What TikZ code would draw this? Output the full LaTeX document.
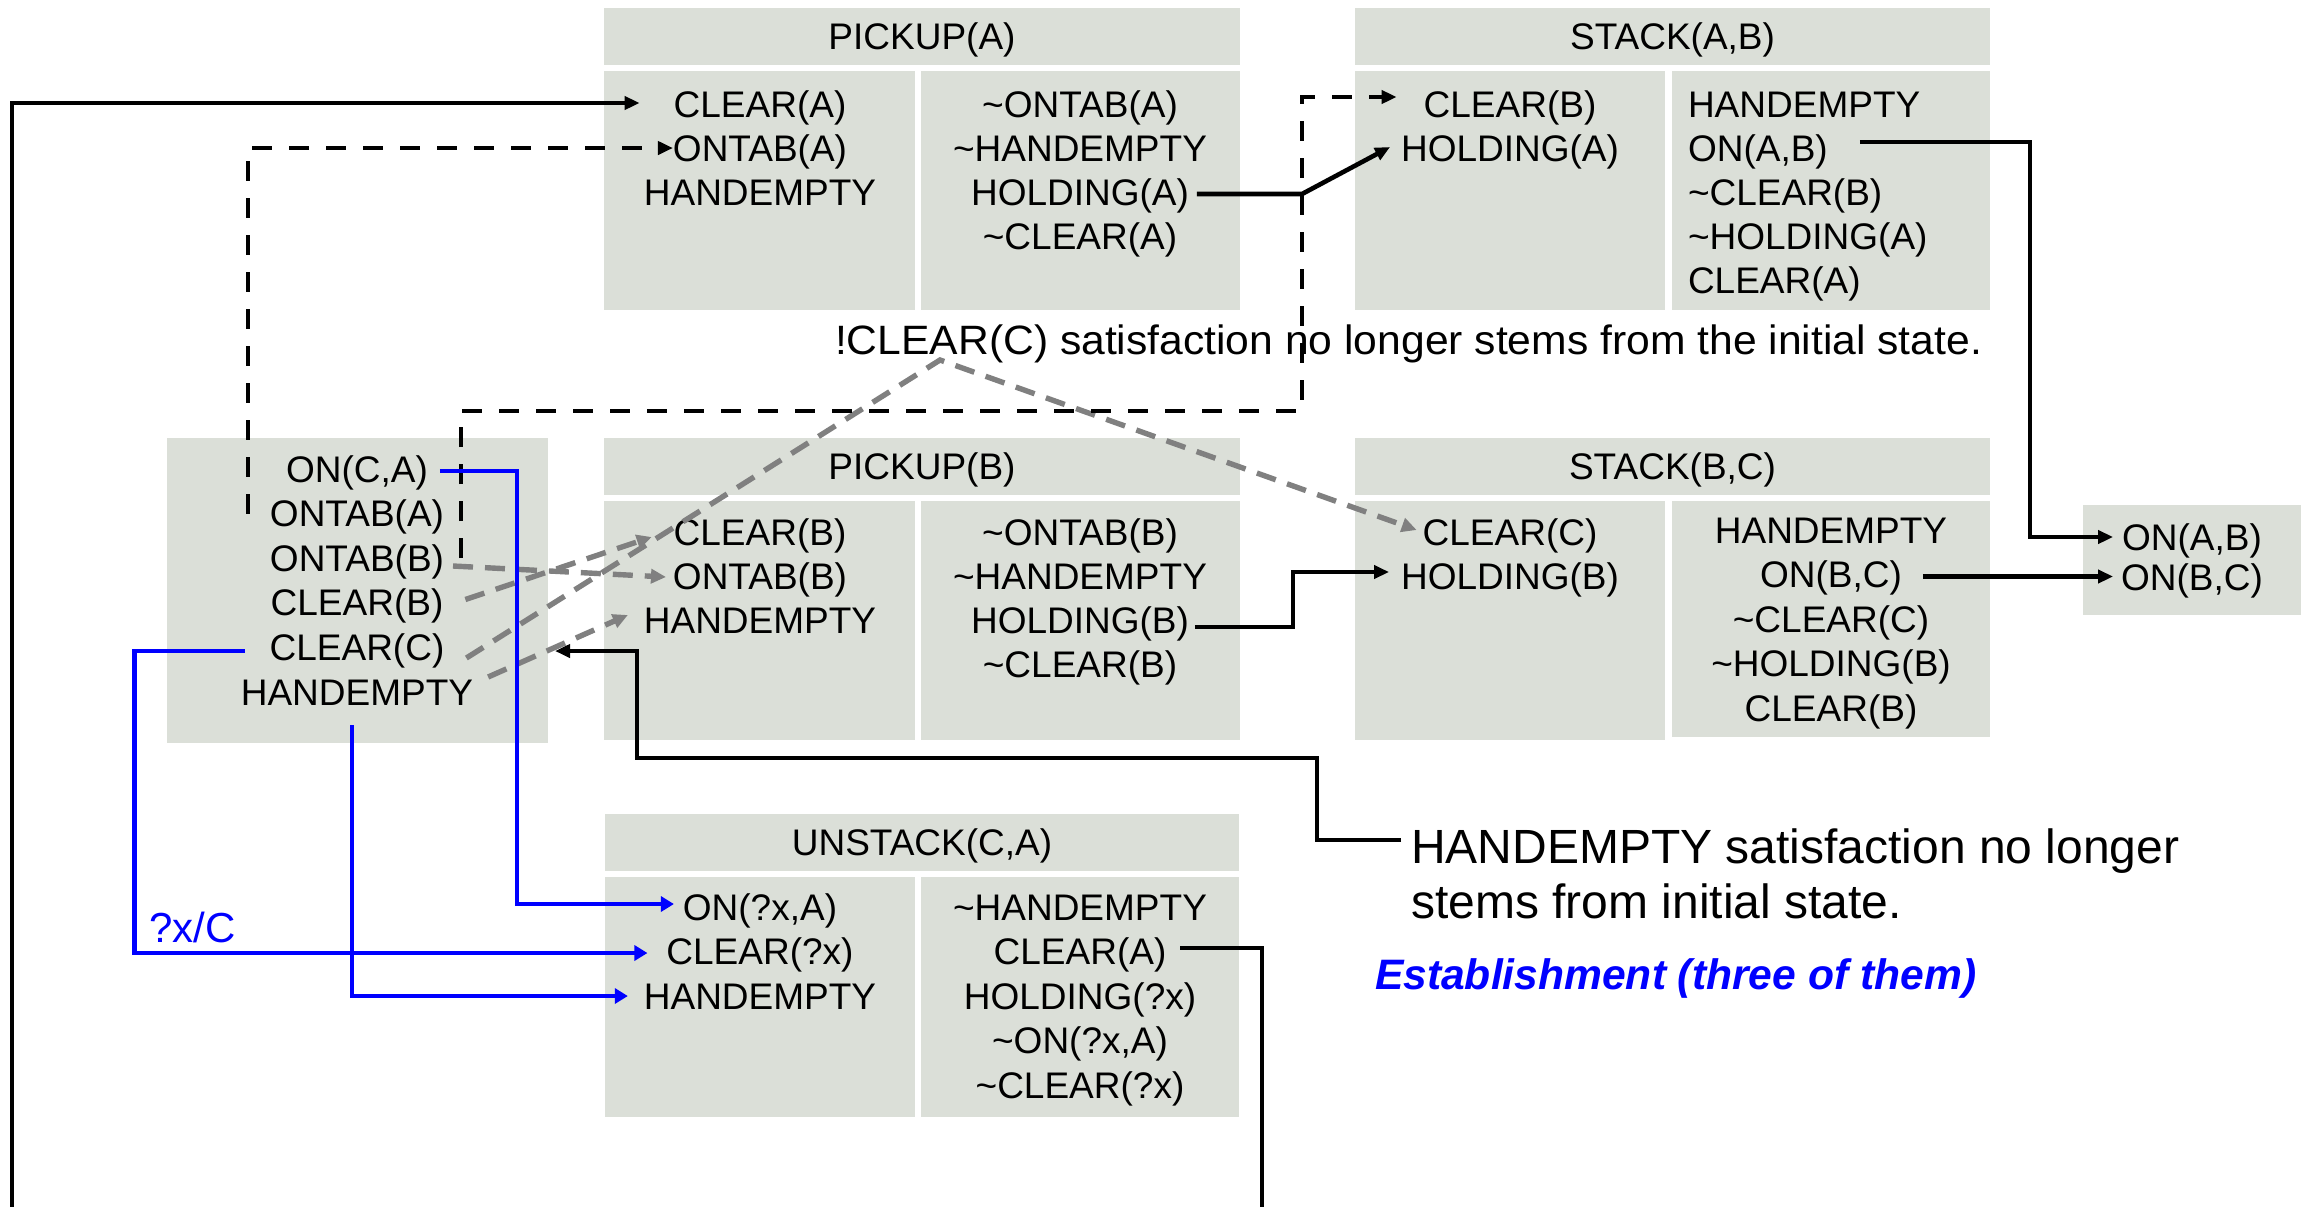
\documentclass[tikz,border=0pt]{standalone}
\usepackage{fontspec}
\setmainfont{Liberation Sans}
\usepackage{graphicx}
\usetikzlibrary{arrows.meta,calc}

\definecolor{cellfill}{RGB}{219,223,216}
\definecolor{linkgray}{RGB}{128,128,128}
\definecolor{estblue}{RGB}{0,0,255}
\newcommand\negt{\textasciitilde}

\tikzset{
  cell/.style={fill=cellfill, draw=none, inner sep=0pt, outer sep=0pt},
  lbl/.style={font=\fontsize{18.5pt}{22pt}\selectfont, inner sep=0pt, outer sep=0pt,
    text height=13.25pt, text depth=0pt},
  lblw/.style={lbl, anchor=west},
  notetxt/.style={font=\fontsize{20.5pt}{24pt}\selectfont, inner sep=0pt, outer sep=0pt,
    text height=14.7pt, text depth=0pt, anchor=west},
  bignote/.style={font=\fontsize{24pt}{28pt}\selectfont, inner sep=0pt, outer sep=0pt,
    text height=17.2pt, text depth=0pt, anchor=west},
  bluenote/.style={font=\fontsize{21pt}{25pt}\selectfont, text=estblue, inner sep=0pt,
    outer sep=0pt, text height=15pt, text depth=0pt, anchor=west},
  link/.style={line width=2.3pt, -{Triangle[length=7.5pt,width=6.5pt]}},
  dlink/.style={line width=2.3pt, dash pattern=on 10pt off 8.5pt,
    -{Triangle[length=7.5pt,width=6.5pt]}},
  glink/.style={line width=2.7pt, draw=linkgray, dash pattern=on 10pt off 6pt,
    -{Triangle[length=7.5pt,width=7pt,fill=linkgray]}},
  blink/.style={line width=2.4pt, draw=estblue,
    -{Triangle[length=6.5pt,width=7.5pt,fill=estblue]}},
}

% shaded cell given by its corners (x1,y1) and (x2,y2), in pixel units
\newcommand\cellat[5]{%
  \node[cell, minimum width={(#4-#2)*0.5pt}, minimum height={(#5-#3)*0.5pt}]
    (#1) at ({(#2+#4)/2},{(#3+#5)/2}) {};}
% header cell carrying the operator name
\newcommand\headat[6]{%
  \node[cell, lbl, minimum width={(#4-#2)*0.5pt}, minimum height={(#5-#3)*0.5pt}]
    (#1) at ({(#2+#4)/2},{(#3+#5)/2}) {#6};}

\begin{document}
\begin{tikzpicture}[x=0.5pt,y=-0.5pt]
\fill[white] (0,0) rectangle (2305,1206);
\useasboundingbox (0,0) rectangle (2305,1206);

% ---------- initial state ----------
\cellat{init}{167}{438}{548}{743}
\node[lbl] (is1) at (357,469)   {ON(C,A)};
\node[lbl] (is2) at (357,513.5) {ONTAB(A)};
\node[lbl] (is3) at (357,558)   {ONTAB(B)};
\node[lbl] (is4) at (357,602.5) {CLEAR(B)};
\node[lbl] (is5) at (357,647)   {CLEAR(C)};
\node[lbl] (is6) at (357,692)   {HANDEMPTY};

% ---------- PICKUP(A) ----------
\headat{pa-h}{604}{8}{1240}{65}{PICKUP(A)}
\cellat{pa-l}{604}{71}{915}{310}
\cellat{pa-r}{921}{71}{1240}{310}
\node[lbl] (pa-p1) at (760,104) {CLEAR(A)};
\node[lbl] (pa-p2) at (760,148) {ONTAB(A)};
\node[lbl] (pa-p3) at (760,192) {HANDEMPTY};
\node[lbl] (pa-e1) at (1080,104) {\negt ONTAB(A)};
\node[lbl] (pa-e2) at (1080,148) {\negt HANDEMPTY};
\node[lbl] (pa-e3) at (1080,192) {HOLDING(A)};
\node[lbl] (pa-e4) at (1080,236) {\negt CLEAR(A)};

% ---------- STACK(A,B) ----------
\headat{sab-h}{1355}{8}{1990}{65}{STACK(A,B)}
\cellat{sab-l}{1355}{71}{1665}{310}
\cellat{sab-r}{1672}{71}{1990}{310}
\node[lbl] (sab-p1) at (1510,104) {CLEAR(B)};
\node[lbl] (sab-p2) at (1510,148) {HOLDING(A)};
\node[lblw] (sab-e1) at (1688,104) {HANDEMPTY};
\node[lblw] (sab-e2) at (1688,148) {ON(A,B)};
\node[lblw] (sab-e3) at (1688,192) {\negt CLEAR(B)};
\node[lblw] (sab-e4) at (1688,236) {\negt HOLDING(A)};
\node[lblw] (sab-e5) at (1688,280) {CLEAR(A)};

% ---------- PICKUP(B) ----------
\headat{pb-h}{604}{438}{1240}{495}{PICKUP(B)}
\cellat{pb-l}{604}{501}{915}{740}
\cellat{pb-r}{921}{501}{1240}{740}
\node[lbl] (pb-p1) at (760,532) {CLEAR(B)};
\node[lbl] (pb-p2) at (760,576) {ONTAB(B)};
\node[lbl] (pb-p3) at (760,620) {HANDEMPTY};
\node[lbl] (pb-e1) at (1080,532) {\negt ONTAB(B)};
\node[lbl] (pb-e2) at (1080,576) {\negt HANDEMPTY};
\node[lbl] (pb-e3) at (1080,620) {HOLDING(B)};
\node[lbl] (pb-e4) at (1080,664) {\negt CLEAR(B)};

% ---------- STACK(B,C) ----------
\headat{sbc-h}{1355}{438}{1990}{495}{STACK(B,C)}
\cellat{sbc-l}{1355}{501}{1665}{740}
\cellat{sbc-r}{1672}{501}{1990}{737}
\node[lbl] (sbc-p1) at (1510,532) {CLEAR(C)};
\node[lbl] (sbc-p2) at (1510,576) {HOLDING(B)};
\node[lbl] (sbc-e1) at (1831,530)   {HANDEMPTY};
\node[lbl] (sbc-e2) at (1831,574.5) {ON(B,C)};
\node[lbl] (sbc-e3) at (1831,619)   {\negt CLEAR(C)};
\node[lbl] (sbc-e4) at (1831,663.5) {\negt HOLDING(B)};
\node[lbl] (sbc-e5) at (1831,708)   {CLEAR(B)};

% ---------- goal ----------
\cellat{goal}{2083}{505}{2301}{615}
\node[lbl] (g1) at (2192,537) {ON(A,B)};
\node[lbl] (g2) at (2192,577) {ON(B,C)};

% ---------- UNSTACK(C,A) ----------
\headat{ua-h}{605}{814}{1239}{871}{UNSTACK(C,A)}
\cellat{ua-l}{605}{877}{915}{1117}
\cellat{ua-r}{921}{877}{1239}{1117}
\node[lbl] (ua-p1) at (760,907)   {ON(?x,A)};
\node[lbl] (ua-p2) at (760,951.5) {CLEAR(?x)};
\node[lbl] (ua-p3) at (760,996)   {HANDEMPTY};
\node[lbl] (ua-e1) at (1080,907)    {\negt HANDEMPTY};
\node[lbl] (ua-e2) at (1080,951.5)  {CLEAR(A)};
\node[lbl] (ua-e3) at (1080,996)    {HOLDING(?x)};
\node[lbl] (ua-e4) at (1080,1040.5) {\negt ON(?x,A)};
\node[lbl] (ua-e5) at (1080,1085)   {\negt CLEAR(?x)};

% ---------- notes ----------
\node[notetxt] (note1) at (835,340)
  {\scalebox{1.04}[1]{!CLEAR(C) satisfaction no longer stems from the initial state.}};
\node[bignote] (hs1) at (1411,846) {HANDEMPTY satisfaction no longer};
\node[bignote] (hs2) at (1411,901) {stems from initial state.};
\node[bluenote, font=\fontsize{21.3pt}{25pt}\selectfont\bfseries\itshape] (est) at (1375,974)
  {Establishment (three of them)};
\node[bluenote] (sub) at (149,927) {?x/C};

% ---------- gray dashed threats ----------
\draw[glink] ($(is3.east)+(9,8)$) -- ($(pb-p2.west)+(-7,1)$);
\draw[glink] ($(is4.east)+(22,-3)$) -- ($(pb-p1.west)+(-22,5)$);
\coordinate (peak) at (940,360);
\draw[glink] ($(is5.east)+(22,11)$) -- (peak) -- ($(sbc-p1.west)+(-6,-2)$);
\draw[glink] ($(is6.east)+(15,-15)$) -- ($(pb-p3.west)+(-16,-5)$);

% ---------- black dashed links ----------
\coordinate (c2s) at ($(is2.west)+(-22,0)$);
\draw[dlink] (c2s) |- (pa-p2.west);

\coordinate (c3s) at ($(is3.east)+(17,0)$);
\coordinate (c3a) at (1302,411);
\coordinate (c3t) at ($(sab-p1.west)+(-27,-7)$);
\draw[dlink] (c3s) |- (c3a) |- (c3t);

% ---------- solid links ----------
\coordinate (c1s) at ($(ua-e2.east)+(14,-3.5)$);
\coordinate (c1t) at ($(pa-p1.west)+(-34,-1)$);
\coordinate (c1a) at (1262,1240);
\coordinate (c1b) at (12,1240);
\draw[link] (c1s) -| (c1a) -- (c1b) |- (c1t);

\coordinate (c4s) at ($(pa-e3.east)+(8,2)$);
\coordinate (c4t) at ($(sab-p2.west)+(-11,-1)$);
\draw[link] (c4s) -- (c4s -| c3a) -- (c4t);

\coordinate (c5s) at ($(sab-e2.east)+(32,-6)$);
\coordinate (c5t) at ($(g1.west)+(-9,0)$);
\coordinate (c5a) at ($(c5t)+(-83,0)$);
\draw[link] (c5s) -| (c5a) -- (c5t);

\coordinate (c6s) at ($(sbc-e2.east)+(21,2)$);
\coordinate (c6t) at ($(g2.west)+(-8,0)$);
\draw[link] (c6s) -- (c6s -| c6t);

\coordinate (c7s) at ($(pb-e3.east)+(6,7)$);
\coordinate (c7t) at ($(sbc-p2.west)+(-12,-4)$);
\coordinate (c7a) at ($(c7t)+(-96,0)$);
\draw[link] (c7s) -| (c7a) -- (c7t);

\coordinate (c8s) at ($(hs1.west)+(-10,-6)$);
\coordinate (c8a) at (1317,758);
\coordinate (c8t) at ($(init.north east)+(7,213)$);
\coordinate (c8b) at ($(c8t)+(82,0)$);
\draw[link] (c8s) -| (c8a) -| (c8b) -- (c8t);

% ---------- blue establishment links ----------
\draw[blink] ($(is1.east)+(12,2)$) -| ($(ua-p1.west)+(-166,-3)$) -- ($(ua-p1.west)+(-9,-3)$);
\draw[blink] ($(is5.west)+(-25,4)$) -| ($(ua-p2.west)+(-532,1.5)$) -- ($(ua-p2.west)+(-19,1.5)$);
\draw[blink] ($(is6.south)+(-5,20)$) |- ($(ua-p3.west)+(-16,0)$);
\end{tikzpicture}
\end{document}
